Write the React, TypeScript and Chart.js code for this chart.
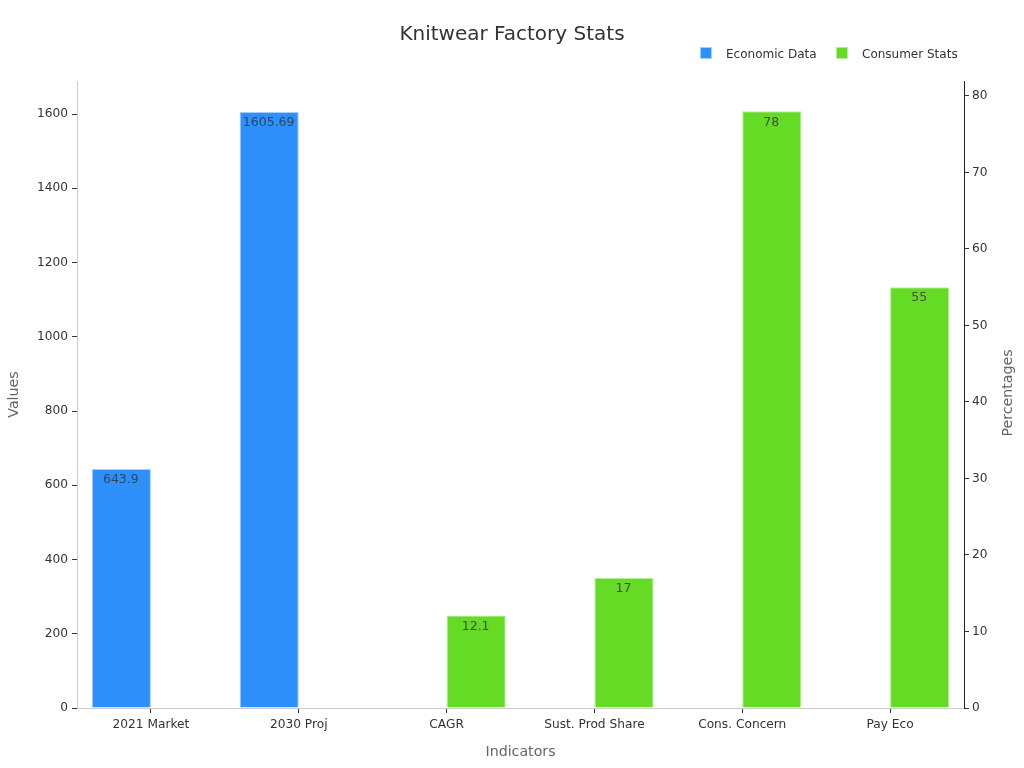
import React, { useEffect, useRef } from 'react';
import { Chart, registerables } from 'chart.js';

Chart.register(...registerables);

const categories = ['2021 Market', '2030 Proj', 'CAGR', 'Sust. Prod Share', 'Cons. Concern', 'Pay Eco'];
const economicValues = [643.9, 1605.69, null, null, null, null];
const consumerValues = [null, null, 12.1, 17, 78, 55];
const leftTicks = [0, 200, 400, 600, 800, 1000, 1200, 1400, 1600];
const rightTicks = [0, 10, 20, 30, 40, 50, 60, 70, 80];

const FONT = '"DejaVu Sans", sans-serif';

// value labels just inside the top of each bar
const valueLabels = {
  id: 'valueLabels',
  afterDatasetsDraw(chart: any) {
    const { ctx } = chart;
    ctx.save();
    ctx.font = `12.5px ${FONT}`;
    ctx.fillStyle = 'rgba(51,51,51,0.8)';
    ctx.textAlign = 'center';
    ctx.textBaseline = 'middle';
    chart.data.datasets.forEach((ds: any, i: number) => {
      chart.getDatasetMeta(i).data.forEach((bar: any, j: number) => {
        if (ds.data[j] == null) return;
        ctx.fillText(String(ds.data[j]), bar.x - 0.5, bar.y + 11);
      });
    });
    ctx.restore();
  },
};

// legend and the right axis title, neither of which the built-ins can lay out this way
const extras = {
  id: 'extras',
  afterDraw(chart: any) {
    const { ctx } = chart;
    ctx.save();
    ctx.font = `12px ${FONT}`;
    ctx.textBaseline = 'middle';
    ctx.textAlign = 'left';
    const starts = [700, 836];
    chart.data.datasets.forEach((ds: any, i: number) => {
      ctx.fillStyle = ds.borderColor;
      ctx.fillRect(starts[i], 47, 12, 12);
      ctx.fillStyle = ds.backgroundColor;
      ctx.fillRect(starts[i] + 1, 48, 10, 10);
      ctx.fillStyle = '#333333';
      ctx.fillText(ds.label, starts[i] + 26, 55);
    });
    ctx.translate(1008.5, 393);
    ctx.rotate(-Math.PI / 2);
    ctx.font = `14.2px ${FONT}`;
    ctx.fillStyle = '#666666';
    ctx.textAlign = 'center';
    ctx.fillText('Percentages', 0, 0);
    ctx.restore();
  },
};

const App: React.FC = () => {
  const canvasRef = useRef<HTMLCanvasElement | null>(null);

  useEffect(() => {
    if (!canvasRef.current) return;
    const chart = new Chart(canvasRef.current, {
      type: 'bar',
      data: {
        labels: categories,
        datasets: [
          {
            label: 'Economic Data',
            data: economicValues,
            yAxisID: 'y',
            backgroundColor: '#2e90fa',
            borderColor: '#a5d0fd',
            borderWidth: { left: 1, right: 1, top: 1, bottom: 0 },
            barPercentage: 1,
            categoryPercentage: 0.8,
          },
          {
            label: 'Consumer Stats',
            data: consumerValues,
            yAxisID: 'y1',
            backgroundColor: '#66db26',
            borderColor: '#b5eea0',
            borderWidth: { left: 1, right: 1, top: 1, bottom: 0 },
            barPercentage: 1,
            categoryPercentage: 0.8,
          },
        ],
      } as any,
      options: {
        animation: false,
        responsive: false,
        layout: { padding: { top: 23, left: 0, right: 0, bottom: 0 } },
        plugins: {
          legend: { display: false },
          tooltip: { enabled: false },
          title: {
            display: true,
            text: 'Knitwear Factory Stats',
            color: '#333333',
            font: { family: FONT, size: 20, weight: 'normal' },
            padding: { top: 0, bottom: 34 },
          },
        },
        scales: {
          x: {
            grid: { drawOnChartArea: false, offset: false, tickLength: 5, tickColor: '#333333' },
            border: { color: '#cccccc' },
            ticks: { color: '#333333', font: { family: FONT, size: 12.2 }, maxRotation: 0, padding: 5 },
            title: { display: true, text: 'Indicators', color: '#666666', font: { family: FONT, size: 14.2 }, padding: { top: 8, bottom: 7 } },
            afterFit: (s: any) => { s.height = 60; },
          },
          y: {
            position: 'left',
            min: 0,
            max: 1689,
            afterBuildTicks: (s: any) => { s.ticks = leftTicks.map((value) => ({ value })); },
            grid: { drawOnChartArea: false, tickLength: 5, tickColor: '#333333' },
            border: { color: '#cccccc' },
            ticks: { color: '#333333', font: { family: FONT, size: 12.2 }, padding: 4, callback: (v: any) => String(v) },
            title: { display: true, text: 'Values', color: '#666666', font: { family: FONT, size: 14.2 }, padding: { top: 6, bottom: 0 } },
            afterFit: (s: any) => { s.width = 77; },
          },
          y1: {
            position: 'right',
            min: 0,
            max: 81.96,
            afterBuildTicks: (s: any) => { s.ticks = rightTicks.map((value) => ({ value })); },
            grid: { drawOnChartArea: false, tickLength: 5, tickColor: '#333333' },
            border: { color: '#222222' },
            ticks: { color: '#333333', font: { family: FONT, size: 12.2 }, padding: 3, callback: (v: any) => String(v) },
            afterFit: (s: any) => { s.width = 60; },
          },
        },
      } as any,
      plugins: [valueLabels, extras],
    });
    return () => chart.destroy();
  }, []);

  return (
    <canvas
      ref={canvasRef}
      width={1024}
      height={768}
      style={{ position: 'absolute', left: 0, top: 0, display: 'block' }}
    />
  );
};

export default App;
